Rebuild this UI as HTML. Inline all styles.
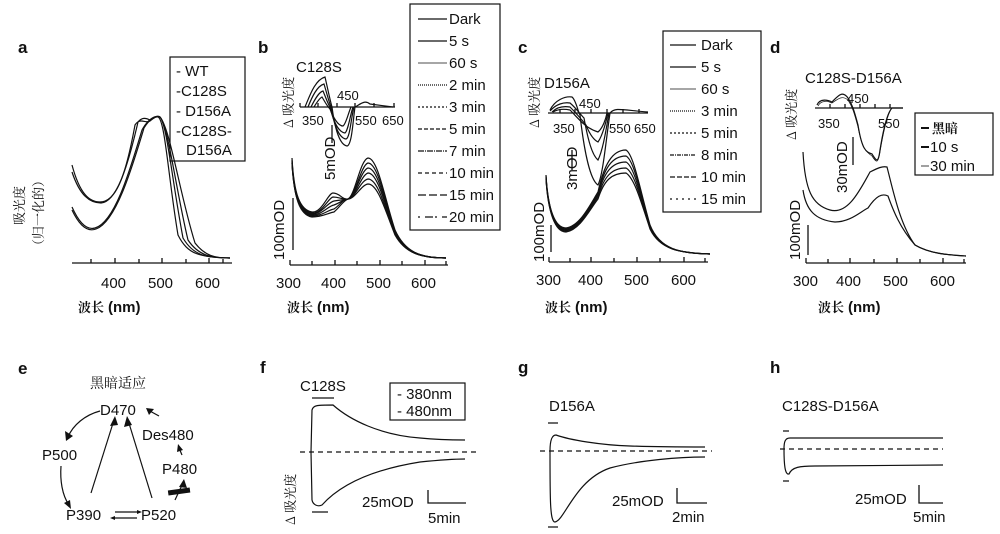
<!DOCTYPE html>
<html><head><meta charset="utf-8"><style>
html,body{margin:0;padding:0;background:#fff;}
svg{display:block;font-family:"Liberation Sans","Noto Sans CJK SC",sans-serif;}
.ax{stroke:#111;stroke-width:1.3;fill:none}
.c{stroke:#111;fill:none;stroke-width:1.2}
.t{font-size:15px;fill:#111}
.s{font-size:13px;fill:#111}
.b{font-size:17px;font-weight:bold;fill:#111}
.cj{font-family:"Noto Serif CJK SC","Noto Sans CJK SC",serif;font-size:13px;fill:#111}
</style></head><body>
<svg width="1000" height="534" viewBox="0 0 1000 534" xmlns="http://www.w3.org/2000/svg">
<!-- panel a -->
<text x="18" y="53" class="b">a</text>
<text transform="translate(24,225) rotate(-90)" class="cj">吸光度</text>
<text transform="translate(43,252) rotate(-90)" class="cj">（归一化的）</text>
<path class="ax" d="M72,263 H232 M91,263 v-4 M115,263 v-5 M139,263 v-4 M162,263 v-5 M186,263 v-4 M209,263 v-5 M223,263 v-4"/>
<text x="101" y="288" class="t">400</text><text x="148" y="288" class="t">500</text><text x="195" y="288" class="t">600</text>
<text x="78" y="312" class="cj" style="font-weight:bold">波长</text><text x="108" y="312" class="t" style="font-weight:bold">(nm)</text>
<rect x="170" y="57" width="75" height="104" fill="none" stroke="#111" stroke-width="1.2"/>
<text x="176" y="76" class="t">- WT</text><text x="176" y="96" class="t">-C128S</text><text x="176" y="116" class="t">- D156A</text><text x="176" y="136" class="t">-C128S-</text><text x="186" y="155" class="t">D156A</text>
<g class="c">
<path d="M72,165 C80,195 90,202 100,202 C115,202 125,180 135,125 C140,117 146,124 150,121 C154,118 156,116 158,117 C165,120 168,175 178,235 C188,255 200,257 230,258"/>
<path d="M72,172 C80,196 90,203 101,203 C116,202 127,170 138,122 C142,117 146,118 150,120 C154,117 158,115 160,117 C167,125 172,180 183,238 C193,255 205,258 230,258"/>
<path d="M72,207 C80,225 88,230 95,228 C115,222 130,170 142,130 C148,119 155,115 160,117 C168,125 176,190 188,240 C198,255 210,258 230,258"/>
<path d="M72,210 C80,227 88,232 96,229 C116,222 132,168 144,128 C150,118 156,116 160,117 C170,128 180,195 195,243 C205,256 215,258 230,258"/>
</g>
<!-- panel b -->
<text x="258" y="53" class="b">b</text>
<text transform="translate(293,128) rotate(-90)" class="cj">Δ 吸光度</text>
<text x="296" y="72" class="t">C128S</text>
<path class="ax" d="M300,107 H395 M300,107 v-4 M318,107 v-4 M337,107 v-4 M355,107 v-4 M374,107 v-4 M394,107 v-4"/>
<text x="302" y="125" class="s">350</text><text x="337" y="100" class="s">450</text><text x="355" y="125" class="s">550</text><text x="382" y="125" class="s">650</text>
<g class="c" stroke-width="0.9">
<path d="M305,107 C310,95 315,80 325,77 C328,90 330,100 332,107 C335,130 340,145 347,146 C352,145 353,120 355,107 C362,103 365,100 370,104 L393,107"/>
<path d="M308,107 C312,97 317,86 324,84 C327,94 329,102 331,107 C334,125 339,138 346,139 C350,138 351,118 354,107"/>
<path d="M311,107 C315,99 319,92 323,91 C326,98 328,104 330,107 C333,120 338,132 345,133 C348,131 350,116 353,107"/>
<path d="M314,107 C317,102 320,98 322,97 C325,102 327,106 330,109 C333,117 338,126 343,126 C346,124 348,114 351,107"/>
</g>
<path class="ax" d="M332,125 V143"/>
<text transform="translate(335,180) rotate(-90)" class="t">5mOD</text>
<path class="ax" d="M290,265 H448 M290,265 v-5 M312,265 v-4 M335,265 v-5 M357,265 v-4 M380,265 v-5 M402,265 v-4 M425,265 v-5 M446,265 v-4"/>
<text x="276" y="288" class="t">300</text><text x="321" y="288" class="t">400</text><text x="366" y="288" class="t">500</text><text x="411" y="288" class="t">600</text>
<text x="287" y="312" class="cj" style="font-weight:bold">波长</text><text x="317" y="312" class="t" style="font-weight:bold">(nm)</text>
<path class="ax" d="M293,198 V250"/>
<text transform="translate(284,260) rotate(-90)" class="t">100mOD</text>
<g class="c" stroke-width="0.9">
<path d="M292,158 C294,195 300,210 312,212 C322,213 328,193 333,193 C340,193 342,200 348,199 C355,196 360,160 368,158 C378,158 385,200 395,230 C405,252 420,258 446,258"/>
<path d="M292,160 C294,196 300,211 312,213 C322,214 328,198 333,197 C340,197 342,200 348,199 C355,197 361,165 368,163 C378,163 385,202 395,231 C405,252 420,258 446,258"/>
<path d="M292,161 C294,197 300,212 312,214 C322,214 328,202 334,201 C340,200 342,200 348,199 C355,197 361,170 368,168 C378,168 385,204 395,232 C405,252 420,258 446,258"/>
<path d="M292,162 C294,198 300,213 312,215 C322,215 328,206 334,205 C340,203 342,200 348,199 C355,198 361,175 368,173 C378,173 385,206 395,233 C405,253 420,258 446,258"/>
<path d="M292,163 C294,199 300,214 312,216 C322,216 328,210 334,209 C340,205 342,200 348,199 C355,198 361,180 368,179 C378,179 385,208 395,234 C405,253 420,258 446,258"/>
<path d="M292,163 C294,199 300,215 312,217 C322,217 328,213 334,212 C340,207 343,201 348,199 C355,199 361,185 368,184 C378,184 385,210 395,235 C405,253 420,258 446,258"/>
</g>
<rect x="410" y="4" width="90" height="226" fill="none" stroke="#111" stroke-width="1.2"/>
<g class="t">
<text x="449" y="24">Dark</text><text x="449" y="46">5 s</text><text x="449" y="68">60 s</text><text x="449" y="90">2 min</text><text x="449" y="112">3 min</text><text x="449" y="134">5 min</text><text x="449" y="156">7 min</text><text x="449" y="178">10 min</text><text x="449" y="200">15 min</text><text x="449" y="222">20 min</text>
</g>
<g stroke="#111" stroke-width="1.2">
<line x1="418" y1="19" x2="447" y2="19"/><line x1="418" y1="41" x2="447" y2="41"/><line x1="418" y1="63" x2="447" y2="63" stroke-width="0.7"/>
<line x1="418" y1="85" x2="447" y2="85" stroke-dasharray="1,1"/><line x1="418" y1="107" x2="447" y2="107" stroke-dasharray="2,2"/>
<line x1="418" y1="129" x2="447" y2="129" stroke-dasharray="4,2"/><line x1="418" y1="151" x2="447" y2="151" stroke-dasharray="6,1,1,1"/>
<line x1="418" y1="173" x2="447" y2="173" stroke-dasharray="4,3"/><line x1="418" y1="195" x2="447" y2="195" stroke-dasharray="8,3"/><line x1="418" y1="217" x2="447" y2="217" stroke-dasharray="2,5,8,2"/>
</g>
<!-- panel c -->
<text x="518" y="53" class="b">c</text>
<text transform="translate(539,128) rotate(-90)" class="cj">Δ 吸光度</text>
<text x="544" y="88" class="t">D156A</text>
<path class="ax" d="M548,113 H648 M560,113 v-4 M575,113 v-4 M591,113 v-4 M607,113 v-4 M623,113 v-4 M639,113 v-4"/>
<text x="553" y="133" class="s">350</text><text x="579" y="108" class="s">450</text><text x="609" y="133" class="s">550</text><text x="634" y="133" class="s">650</text>
<g class="c" stroke-width="0.9">
<path d="M550,110 C555,100 565,96 572,97 C576,100 578,112 580,115 C584,150 590,180 598,185 C603,175 606,140 610,113 C615,107 622,110 648,112"/>
<path d="M550,111 C556,104 564,102 570,103 C576,108 580,114 584,118 C588,140 592,155 598,160 C603,150 606,130 609,113"/>
<path d="M552,112 C557,107 564,106 570,107 C578,115 582,120 586,125 C590,135 594,140 598,142 C603,135 606,122 608,113"/>
<path d="M553,112 C558,109 565,109 570,110 C578,118 585,128 598,132 C603,128 606,118 607,113"/>
</g>
<path class="ax" d="M572,150 V170"/>
<text transform="translate(577,190) rotate(-90)" class="t">3mOD</text>
<path class="ax" d="M549,262 H708 M549,262 v-5 M570,262 v-4 M591,262 v-5 M614,262 v-4 M637,262 v-5 M660,262 v-4 M684,262 v-5 M705,262 v-4"/>
<text x="536" y="285" class="t">300</text><text x="578" y="285" class="t">400</text><text x="624" y="285" class="t">500</text><text x="671" y="285" class="t">600</text>
<text x="545" y="312" class="cj" style="font-weight:bold">波长</text><text x="575" y="312" class="t" style="font-weight:bold">(nm)</text>
<path class="ax" d="M551,225 V252"/>
<text transform="translate(544,262) rotate(-90)" class="t">100mOD</text>
<g class="c" stroke-width="0.9">
<path d="M546,175 C548,210 555,228 566,228 C580,226 590,205 598,192 C604,165 612,150 626,150 C634,155 640,190 650,225 C660,250 680,253 710,254"/>
<path d="M546,176 C548,210 555,229 566,229 C580,227 590,206 598,194 C604,168 612,156 626,156 C634,160 640,192 650,226 C660,250 680,253 710,254"/>
<path d="M546,177 C548,211 555,230 566,230 C580,228 590,207 598,195 C604,172 612,162 626,162 C634,166 640,194 650,227 C660,250 680,253 710,254"/>
<path d="M546,178 C548,212 555,231 566,231 C580,229 590,208 598,197 C604,176 612,168 626,168 C634,172 640,196 650,228 C660,250 680,253 710,254"/>
<path d="M546,179 C548,212 555,232 566,232 C580,230 590,209 598,199 C604,180 612,173 626,173 C634,178 640,198 650,229 C660,250 680,253 710,254"/>
</g>
<rect x="663" y="31" width="98" height="181" fill="none" stroke="#111" stroke-width="1.2"/>
<g class="t">
<text x="701" y="50">Dark</text><text x="701" y="72">5 s</text><text x="701" y="94">60 s</text><text x="701" y="116">3 min</text><text x="701" y="138">5 min</text><text x="701" y="160">8 min</text><text x="701" y="182">10 min</text><text x="701" y="204">15 min</text>
</g>
<g stroke="#111" stroke-width="1.2">
<line x1="670" y1="45" x2="696" y2="45"/><line x1="670" y1="67" x2="696" y2="67"/><line x1="670" y1="89" x2="696" y2="89" stroke-width="0.7"/>
<line x1="670" y1="111" x2="696" y2="111" stroke-dasharray="1,1"/><line x1="670" y1="133" x2="696" y2="133" stroke-dasharray="2,2"/>
<line x1="670" y1="155" x2="696" y2="155" stroke-dasharray="4,1,1,1"/><line x1="670" y1="177" x2="696" y2="177" stroke-dasharray="5,2"/><line x1="670" y1="199" x2="696" y2="199" stroke-dasharray="2,4"/>
</g>
<!-- panel d -->
<text x="770" y="53" class="b">d</text>
<text transform="translate(796,140) rotate(-90)" class="cj">Δ 吸光度</text>
<text x="805" y="83" class="t">C128S-D156A</text>
<path class="ax" d="M815,108 H903 M830,108 v-4 M845,108 v-4 M860,108 v-4 M875,108 v-4 M890,108 v-4"/>
<text x="818" y="128" class="s">350</text><text x="847" y="103" class="s">450</text><text x="878" y="128" class="s">550</text>
<g class="c" stroke-width="1.1">
<path d="M817,105 C820,98 828,100 832,102 C838,96 842,90 848,98 C852,104 854,110 858,125 C862,150 866,152 872,154 C876,160 878,165 880,150 C884,125 888,112 892,108 L903,108"/>
<path d="M818,106 C821,100 828,101 832,103 C838,99 842,95 848,100 C852,106 854,112 858,127 C862,148 866,152 872,156 C876,162 878,165 880,152 C884,128 888,113 892,108" stroke-width="0.7"/>
</g>
<path class="ax" d="M853,137 V165"/>
<text transform="translate(847,193) rotate(-90)" class="t">30mOD</text>
<path class="ax" d="M806,263 H966 M806,263 v-5 M828,263 v-4 M850,263 v-5 M874,263 v-4 M897,263 v-5 M920,263 v-4 M943,263 v-5 M964,263 v-4"/>
<text x="793" y="286" class="t">300</text><text x="836" y="286" class="t">400</text><text x="883" y="286" class="t">500</text><text x="930" y="286" class="t">600</text>
<text x="818" y="312" class="cj" style="font-weight:bold">波长</text><text x="848" y="312" class="t" style="font-weight:bold">(nm)</text>
<path class="ax" d="M808,225 V255"/>
<text transform="translate(800,260) rotate(-90)" class="t">100mOD</text>
<g class="c" stroke-width="1.5">
<path d="M803,152 C805,190 812,205 830,210 C848,215 860,190 870,172 C878,168 882,166 887,167 C893,190 900,225 915,245 C930,254 950,255 966,256"/>
<path d="M803,190 C806,210 815,220 835,222 C850,222 860,212 868,208 C876,196 882,193 888,196 C893,210 900,228 915,245 C930,254 950,255 966,256"/>
</g>
<rect x="915" y="113" width="78" height="62" fill="none" stroke="#111" stroke-width="1.2"/>
<text x="932" y="133" class="cj" style="font-weight:bold">黑暗</text>
<text x="930" y="152" class="t">10 s</text><text x="930" y="171" class="t">30 min</text>
<path stroke="#111" stroke-width="2" d="M921,128 h8 M921,147 h8"/><path stroke="#111" stroke-width="0.8" d="M921,166 h8"/>
<!-- panel e -->
<text x="18" y="374" class="b">e</text>
<text x="90" y="388" class="cj" style="font-size:14px">黑暗适应</text>
<text x="100" y="415" class="t">D470</text>
<text x="142" y="440" class="t">Des480</text>
<text x="42" y="460" class="t">P500</text>
<text x="162" y="474" class="t">P480</text>
<text x="66" y="520" class="t">P390</text>
<text x="141" y="520" class="t">P520</text>
<g class="c" stroke-width="1.3">
<path d="M100,411 C85,415 73,425 68,437"/><path d="M61,466 C60,480 62,495 69,505"/>
<path d="M91,493 L114,420"/><path d="M152,498 L128,420"/>
<path d="M159,416 L148,410"/><path d="M182,455 L179,448"/>
<path d="M175,500 L183,483"/>
<path d="M115,512 L137,512 M137,518 L115,518"/>
</g>
<g fill="#111">
<polygon points="66,441 65,431 73,436"/><polygon points="71,509 64,503 70,500"/>
<polygon points="115,416 110,426 118,425"/><polygon points="127,416 124,427 132,425"/>
<polygon points="146,408 154,409 149,415"/><polygon points="178,444 177,452 183,450"/>
<polygon points="184,479 179,487 187,488"/>
<polygon points="137,510 137,514 142,512"/><polygon points="115,516 115,520 110,518"/>
<rect x="168" y="489" width="22" height="5" transform="rotate(-8,179,491)"/>
</g>
<!-- panel f -->
<text x="260" y="373" class="b">f</text>
<text x="300" y="391" class="t">C128S</text>
<path class="ax" d="M312,398 H334 M312,512 H328"/>
<text transform="translate(295,525) rotate(-90)" class="cj">Δ 吸光度</text>
<path d="M300,452 H478" stroke="#111" stroke-width="1.2" stroke-dasharray="5,4"/>
<g class="c" stroke-width="1.8">
<path d="M311,452 L312,410 C313,405 318,405 333,405 C350,420 380,435 420,438 C440,440 455,440 465,440"/>
<path d="M311,452 L312,500 C313,505 318,507 322,505 C340,485 370,470 420,462 C440,460 455,459 465,459"/>
</g>
<rect x="390" y="383" width="75" height="37" fill="none" stroke="#111" stroke-width="1.2"/>
<text x="397" y="399" class="t">- 380nm</text><text x="397" y="416" class="t">- 480nm</text>
<path class="ax" d="M428,490 V503 H466"/>
<text x="362" y="507" class="t">25mOD</text><text x="428" y="523" class="t">5min</text>
<!-- panel g -->
<text x="518" y="373" class="b">g</text>
<text x="549" y="411" class="t">D156A</text>
<path class="ax" d="M548,423 H558 M548,527 H558"/>
<path d="M540,451 H712" stroke="#111" stroke-width="1.2" stroke-dasharray="5,4"/>
<g class="c" stroke-width="1.8">
<path d="M550,451 C550,440 552,435 556,435 C570,440 600,445 630,446 C660,447 690,447 705,447"/>
<path d="M550,451 C550,500 550,522 555,522 C565,520 575,480 610,468 C640,460 680,457 705,457"/>
</g>
<path class="ax" d="M677,488 V503 H707"/>
<text x="612" y="506" class="t">25mOD</text><text x="672" y="522" class="t">2min</text>
<!-- panel h -->
<text x="770" y="373" class="b">h</text>
<text x="782" y="411" class="t">C128S-D156A</text>
<path class="ax" d="M783,431 H789 M783,481 H789"/>
<path d="M780,449 H943" stroke="#111" stroke-width="1.2" stroke-dasharray="5,4"/>
<g class="c" stroke-width="1.8">
<path d="M784,449 C784,442 785,438 790,438 L943,438"/>
<path d="M784,449 C784,465 785,475 789,474 C792,467 800,466 815,466 L943,465"/>
</g>
<path class="ax" d="M919,485 V503 H943"/>
<text x="855" y="504" class="t">25mOD</text><text x="913" y="522" class="t">5min</text>
</svg>
</body></html>
